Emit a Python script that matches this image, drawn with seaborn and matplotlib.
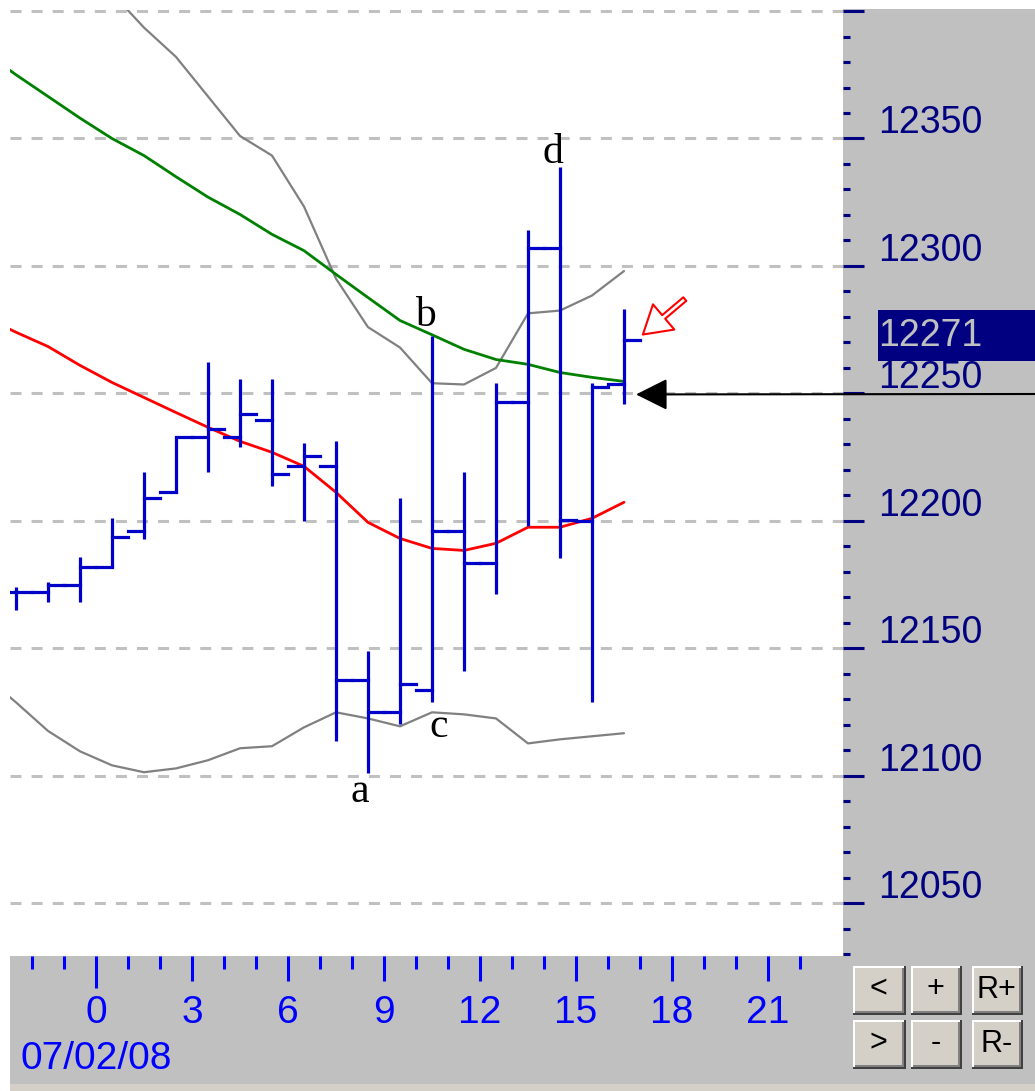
import numpy as np
import pandas as pd
import matplotlib.pyplot as plt
import matplotlib.transforms as mtransforms
from matplotlib.patches import Rectangle
from matplotlib.ticker import MultipleLocator
import seaborn as sns

# hourly OHLC bars for 07/02/08 (x = hour of the bar)
bar_hours = np.arange(-2.5, 17, 1.0)
opens = [12172, 12172, 12175, 12182, 12196, 12211.5, 12233, 12233, 12239.5, 12221.5,
         12221.5, 12137.5, 12125, 12133.5, 12196, 12183.5, 12246.5, 12307, 12200, 12253.5]
highs = [12174, 12176, 12186, 12201, 12219, 12233, 12262.5, 12255.5, 12255.5, 12230.5,
         12231.5, 12149, 12209, 12272.5, 12219, 12254, 12314, 12339, 12254, 12283]
lows = [12165, 12168, 12168, 12182, 12193, 12211, 12219, 12229, 12213.5, 12200,
        12113.5, 12101, 12120.5, 12129, 12141, 12171.5, 12198, 12185.5, 12129, 12246]
closes = [12172, 12175, 12182, 12193.5, 12209, 12233, 12236, 12242, 12218.5, 12225.5,
          12137.5, 12125, 12136, 12196, 12183.5, 12246.5, 12307, 12200.5, 12252.5, 12271]

# indicator lines (one point per bar, plus the bar before the left edge)
line_hours = np.arange(-3.5, 17, 1.0)
red_ma = [12280, 12274, 12268.4, 12261, 12254.3, 12248.4, 12242.5, 12236.7, 12231.2, 12226.9, 12221.4,
          12211.2, 12199.4, 12193.1, 12189.2, 12188.4, 12191.2, 12197.5, 12197.5, 12201, 12207.3]
green_ma = [12384, 12375, 12366.5, 12358, 12350, 12343.3, 12335, 12327, 12320.2, 12312.4, 12306,
            12296.7, 12287.6, 12278.6, 12273, 12267.3, 12263.3, 12261.4, 12258.2, 12256.3, 12254.7]
upper_band = [12465, 12450, 12435, 12420, 12407, 12393.5, 12382, 12366.5, 12351, 12343.3, 12323.3,
              12295, 12276, 12268, 12254, 12253.5, 12260, 12281.4, 12282.5, 12288.4, 12298]
lower_band = [12139.5, 12128.8, 12117.6, 12109.6, 12104.1, 12101.4, 12102.9, 12106.1, 12110.8, 12111.6, 12119,
              12124.9, 12122.5, 12119.4, 12124.9, 12124.1, 12122.5, 12112.7, 12114.3, 12115.5, 12116.7]

price_labels = [12050, 12100, 12150, 12200, 12250, 12300, 12350]
hour_labels = [0, 3, 6, 9, 12, 15, 18, 21]
tick_hours = np.arange(-2, 23)
date_label = "07/02/08"
last_price = "12271"
letters = [("a", 8.25, 12089.6), ("b", 10.28, 12276.3), ("c", 10.72, 12115.1), ("d", 14.28, 12340.2)]
buttons = [["<", "+", "R+"], [">", "-", "R-"]]

sns.set_style("white")
plt.rcParams['font.family'] = ['Liberation Sans', 'DejaVu Sans']

W, H = 1035, 1091
BLUE = "#0000c8"
NAVY = "#000080"
PANEL = "#c0c0c0"


def box(x0, y0, x1, y1):
    # pixel box measured from the top-left -> figure fraction rect
    return [x0 / W, 1 - y1 / H, (x1 - x0) / W, (y1 - y0) / H]


def rect(x0, y0, x1, y1, color, z=-1):
    l, b, w, h = box(x0, y0, x1, y1)
    fig.add_artist(Rectangle((l, b), w, h, transform=fig.transFigure,
                             facecolor=color, edgecolor="none", zorder=z))


fig = plt.figure(figsize=(W / 100, H / 100), dpi=100)

# grey frame panels
rect(843, 9, 1035, 956, PANEL)
rect(10, 956, 1035, 1084, PANEL)
rect(10, 1084, 1035, 1091, "#d4d0c8")

ax = fig.add_axes(box(10, 9.5, 843, 955))
ax.set_xlim((10 - 96) / 32, (843 - 96) / 32)
ax.set_ylim(12029.7, 12400.6)
for s in ax.spines.values():
    s.set_visible(False)

# dashed price grid
ax.yaxis.set_major_locator(MultipleLocator(50))
ax.yaxis.set_minor_locator(MultipleLocator(10))
ax.grid(axis="y", which="major", color=PANEL, lw=2.2, linestyle=(0, (3.6, 3.3)))
ax.grid(axis="x", visible=False)
ax.set_xticks([])
ax.yaxis.tick_right()
ax.tick_params(axis="y", which="major", direction="out", length=15, width=2.2,
               color=NAVY, labelright=False, labelleft=False)
ax.tick_params(axis="y", which="minor", direction="out", length=5, width=2.2,
               color=NAVY, labelright=False, labelleft=False)

# indicator lines
lines = pd.DataFrame({"hour": line_hours, "red": red_ma, "green": green_ma,
                      "upper": upper_band, "lower": lower_band})
sns.lineplot(data=lines, x="hour", y="upper", color="#808080", lw=1.6, ax=ax)
sns.lineplot(data=lines, x="hour", y="lower", color="#808080", lw=1.6, ax=ax)
sns.lineplot(data=lines, x="hour", y="green", color="#008000", lw=2.0, ax=ax)
sns.lineplot(data=lines, x="hour", y="red", color="#ff0000", lw=2.0, ax=ax)
ax.set_xlabel("")
ax.set_ylabel("")

# OHLC bars
ax.vlines(bar_hours, lows, highs, colors=BLUE, lw=2.3, zorder=4)
ax.hlines(opens, bar_hours - 0.5, bar_hours, colors=BLUE, lw=2.3, zorder=4, capstyle="projecting")
ax.hlines(closes, bar_hours, bar_hours + 0.5, colors=BLUE, lw=2.3, zorder=4, capstyle="projecting")

for txt, hx, vy in letters:
    ax.text(hx, vy, txt, ha="center", va="baseline", fontsize=30,
            family=["Liberation Serif", "DejaVu Serif"], color="black")

# arrows
ax.annotate("", xy=(16.875, 12249.6), xytext=(1035, H - 394), textcoords="figure pixels",
            annotation_clip=False,
            arrowprops=dict(arrowstyle="-|>,head_length=1.4,head_width=0.7", color="black",
                            lw=1.5, mutation_scale=14, shrinkA=0, shrinkB=0))
ax.annotate("", xy=(17.09, 12273.1), xytext=(18.4, 12287), annotation_clip=False,
            arrowprops=dict(arrowstyle="simple,head_length=0.7,head_width=0.85,tail_width=0.12",
                            fc="white", ec="red", lw=1.5, mutation_scale=28, shrinkA=0, shrinkB=0))

# right price scale labels
lab_tf = mtransforms.offset_copy(ax.get_yaxis_transform(), fig=fig, x=35, y=15, units="dots")
for v in price_labels:
    ax.text(1, v, str(v), transform=lab_tf, ha="left", va="center", fontsize=27,
            color=NAVY, clip_on=False)
rect(878, 310, 1035, 361, NAVY, z=-0.5)
fig.text(878 / W, 1 - 336 / H, last_price, ha="left", va="center", fontsize=27, color=PANEL)

# bottom hour scale
axb = fig.add_axes(box(10, 956, 843, 1084))
axb.set_xlim(ax.get_xlim())
axb.set_ylim(128, 0)
axb.set_axis_off()
tick_len = [32 if h == 0 else (25 if h % 3 == 0 else 13) for h in tick_hours]
axb.vlines(tick_hours, 0, tick_len, colors="#0000ff", lw=2.2)
for h in hour_labels:
    axb.text(h, 57, str(h), ha="center", va="center", fontsize=28, color="#0000ff")
fig.text(21 / W, 1 - 1059 / H, date_label, ha="left", va="center", fontsize=28, color="#0000ff")

# navigation buttons
cols = [(853, 906), (911, 962), (972, 1023)]
rows = [(966, 1015), (1020, 1069)]
for r, (y0, y1) in enumerate(rows):
    for c, (x0, x1) in enumerate(cols):
        rect(x0, y0, x1, y1, "#404040", z=1)
        rect(x0, y0, x1 - 2, y1 - 2, "white", z=1)
        rect(x0 + 2, y0 + 2, x1 - 2, y1 - 2, "#808080", z=1)
        rect(x0 + 2, y0 + 2, x1 - 4, y1 - 4, "#d4d0c8", z=1)
        fig.text((x0 + x1 - 2) / 2 / W, 1 - (y0 + y1 - 2) / 2 / H, buttons[r][c],
                 ha="center", va="center", fontsize=22, color="black", zorder=2)

fig.savefig("out.png", dpi=100)
